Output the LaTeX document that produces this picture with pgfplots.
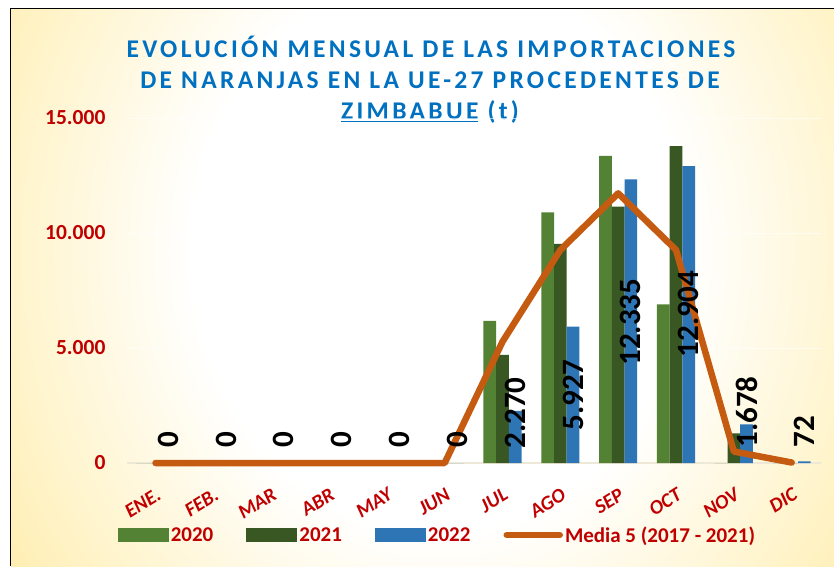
\documentclass[border=0pt]{standalone}
\usepackage{pgfplots}
\pgfplotsset{compat=1.18}
\usepackage{pgfplotstable}
\usepackage{fontspec}
\setmainfont{Carlito}
\newfontfamily\titlefont[LetterSpace=13]{Carlito}
\definecolor{c2020}{RGB}{84,130,53}
\definecolor{c2021}{RGB}{56,87,35}
\definecolor{c2022}{RGB}{46,117,182}
\definecolor{cline}{RGB}{197,90,17}
\definecolor{cred}{RGB}{192,0,0}
\definecolor{ctitle}{RGB}{0,112,192}
\definecolor{gold}{RGB}{255,196,20}
\definecolor{pale}{RGB}{255,240,185}
\definecolor{baseln}{RGB}{238,232,215}
\pgfdeclareradialshading{bgshade}{\pgfpoint{0bp}{0bp}}{color(0bp)=(white); color(14bp)=(white); color(28bp)=(pale); color(48bp)=(gold); color(80bp)=(gold)}

\pgfplotstableread{
x y2020 y2021 y2022 media
0 0 0 0 0
1 0 0 0 0
2 0 0 0 0
3 0 0 0 0
4 0 0 0 0
5 0 0 0 0
6 6180 4700 2270 5275
7 10900 9530 5927 9260
8 13350 11150 12335 11725
9 6900 13780 12904 9260
10 0 1290 1678 500
11 0 0 72 20
}\data

\begin{document}
\begin{tikzpicture}[x=1pt,y=1pt]
\useasboundingbox (0,0) rectangle (834,566);
\fill[white] (0,0) rectangle (834,566);
\begin{scope}
\clip (11,0) rectangle (834,557);
\shade[shading=bgshade] (0,-184) rectangle (880,816);
\end{scope}
\draw[black, line width=1.6pt] (10.5,0) -- (10.5,557.5) -- (834,557.5);

\node[font=\titlefont\bfseries\fontsize{25.5}{28}\selectfont, text=ctitle] at (431,519) {EVOLUCIÓN MENSUAL DE LAS IMPORTACIONES};
\node[font=\titlefont\bfseries\fontsize{25.5}{28}\selectfont, text=ctitle] at (430,486) {DE NARANJAS EN LA UE-27 PROCEDENTES DE};
\node[font=\titlefont\bfseries\fontsize{25.5}{28}\selectfont, text=ctitle] at (430,454) {\underline{ZIMBABUE} (t)};

\begin{axis}[
  at={(126.6pt,103pt)}, anchor=south west,
  scale only axis, width=694pt, height=345pt,
  xmin=-0.5, xmax=11.5, ymin=0, ymax=15000,
  clip=false,
  axis line style={draw=none},
  major tick length=0pt,
  xtick={0,...,11},
  xticklabels={ENE.,FEB.,MAR,ABR,MAY,JUN,JUL,AGO,SEP,OCT,NOV,DIC},
  xticklabel style={xshift=0pt, yshift=-24pt, rotate=32, anchor=north east, inner sep=0pt,
    font=\bfseries\itshape\fontsize{20}{22}\selectfont, text=cred},
  ytick={0,5000,10000,15000},
  scaled y ticks=false,
  yticklabel style={/pgf/number format/.cd, 1000 sep={.}, assume math mode=true, /tikz/.cd,
    font=\bfseries\fontsize{21.5}{24}\selectfont, text=cred, anchor=east, inner sep=0pt, xshift=-21pt},
  ymajorgrids,
  major grid style={draw=white, line width=1pt, opacity=0.6},
  legend columns=4,
  legend style={at={(axis description cs:-0.013,-0.2087)}, anchor=west, draw=none, fill=none,
    font=\bfseries\fontsize{21}{24}\selectfont, text=cred, inner sep=0pt,
    /tikz/every even column/.append style={column sep=31pt}},
]
\draw[baseln, line width=2.5pt] (axis cs:-0.5,0) -- (axis cs:11.5,0);
\addplot[ybar, bar width=12.7pt, bar shift=-12.7pt, fill=c2020, draw=none,
  legend image code/.code={\fill[c2020] (0pt,-7pt) rectangle (51pt,7pt);}] table[x=x,y=y2020] {\data};
\addplot[ybar, bar width=12.7pt, bar shift=0pt, fill=c2021, draw=none,
  legend image code/.code={\fill[c2021] (0pt,-7pt) rectangle (51pt,7pt);}] table[x=x,y=y2021] {\data};
\addplot[ybar, bar width=12.7pt, bar shift=12.7pt, fill=c2022, draw=none,
  legend image code/.code={\fill[c2022] (0pt,-7pt) rectangle (51pt,7pt);}] table[x=x,y=y2022] {\data};
\addplot[cline, line width=6.5pt, line join=round, line cap=round, mark=none,
  legend image code/.code={\draw[cline, line width=6.5pt, line cap=round] (3pt,0pt) -- (56pt,0pt);}] table[x=x,y=media] {\data};
\addplot[draw=none, mark=none, nodes near coords, point meta=explicit symbolic,
  nodes near coords style={rotate=90, anchor=center, text=black, font=\bfseries\fontsize{31}{34}\selectfont}]
  coordinates {(0.22,1000)[0] (1.22,1000)[0] (2.22,1000)[0] (3.22,1000)[0] (4.22,1000)[0] (5.22,1000)[0]
  (6.22,2174)[2.270] (7.22,2957)[5.927] (8.22,6130)[12.335] (9.22,6478)[12.904] (10.22,2217)[1.678] (11.22,1348)[72]};
\legend{2020,2021,2022,Media 5 (2017 - 2021)}
\end{axis}
\end{tikzpicture}
\end{document}
